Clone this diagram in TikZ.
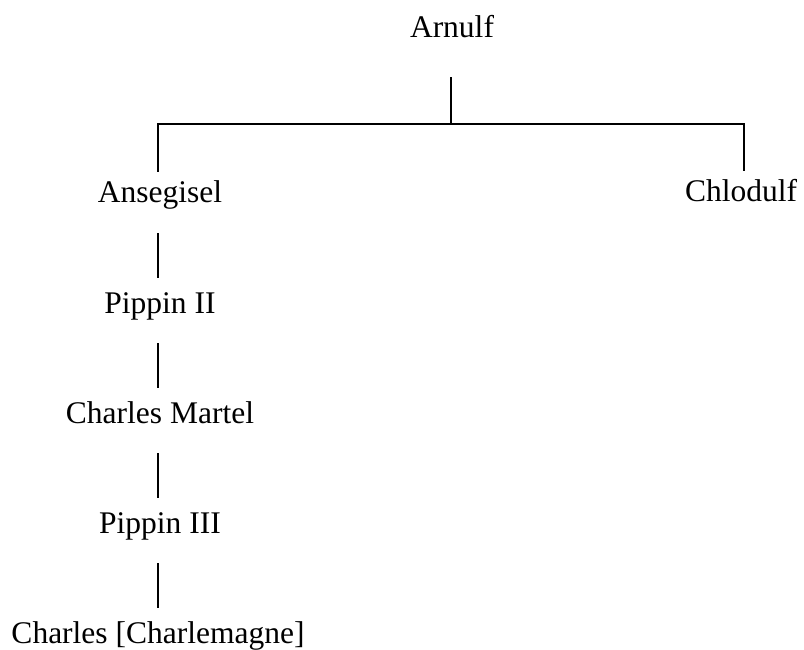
\documentclass[tikz,border=0pt]{standalone}
\usepackage{fontspec}
\setmainfont{Liberation Serif}
\begin{document}
\begin{tikzpicture}[x=1pt,y=-1pt,
  person/.style={font=\fontsize{31.5}{36}\selectfont, anchor=base, inner xsep=0pt, inner ysep=0pt, text height=22pt, text depth=7pt},
  link/.style={line width=2.2pt, shorten <=23pt, shorten >=13pt}]
\useasboundingbox (0,0) rectangle (804,650);
\node[person] (arn) at (452,38) {Arnulf};
\node[person] (ans) at (160,203) {Ansegisel};
\node[person] (chl) at (741,202) {Chlodulf};
\node[person] (p2) at (160,313) {Pippin II};
\node[person] (cm) at (160,423) {Charles Martel};
\node[person] (p3) at (160,533) {Pippin III};
\node[person] (ch) at (158,643) {Charles [Charlemagne]};
\coordinate (bar) at (451,124);
\draw[line width=2.2pt] ([yshift=-32pt]arn.south -| bar) -- (bar);
\draw[line width=2.2pt, line cap=rect, shorten <=10pt, shorten >=10pt]
  ([xshift=-2pt]ans.north) -- ([xshift=-2pt]ans.north |- bar) -- ([xshift=3pt]chl.north |- bar) -- ([xshift=3pt]chl.north);
\draw[link] ([xshift=-2pt]ans.south) -- ([xshift=-2pt]p2.north);
\draw[link] ([xshift=-2pt]p2.south) -- ([xshift=-2pt]cm.north);
\draw[link] ([xshift=-2pt]cm.south) -- ([xshift=-2pt]p3.north);
\draw[link] ([xshift=-2pt]p3.south) -- (ch.north);
\end{tikzpicture}
\end{document}
